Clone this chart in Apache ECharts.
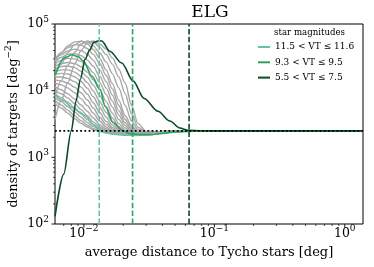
<!DOCTYPE html>
<html><head><meta charset="utf-8">
<script src="https://cdn.jsdelivr.net/npm/echarts@6/dist/echarts.min.js"></script>
<style>html,body{margin:0;padding:0;background:#fff}#c{width:374px;height:267px}</style>
</head><body><div id="c"></div>
<script>
// ---------- data ----------
const gridX = [0.006, 0.0067, 0.0075, 0.0085, 0.0095, 0.0106, 0.0118, 0.0132, 0.0148, 0.0165, 0.0185, 0.0207, 0.0232, 0.026, 0.03, 0.036, 0.045, 0.07, 0.15, 0.4, 1.38];
const greyF1 = [6500,5500,4600,3800,3250,2850,2600,2450,2350,2300,2270,2270,2290,2320,2360,2410,2450,2480,2490,2490,2490];
const greyF2 = [7200,6100,5100,4200,3550,3050,2700,2500,2380,2310,2270,2260,2280,2310,2350,2400,2450,2480,2490,2490,2490];
const greyF3 = [8000,6900,5800,4800,4000,3350,2900,2600,2420,2320,2270,2250,2260,2300,2350,2400,2450,2480,2490,2490,2490];
const greyF4 = [9000,7900,6700,5500,4500,3700,3100,2700,2470,2340,2270,2240,2250,2290,2340,2400,2450,2480,2490,2490,2490];
const greyF5 = [10200,9000,7800,6400,5200,4200,3400,2850,2550,2380,2280,2230,2240,2280,2340,2400,2450,2480,2490,2490,2490];
const greyF6 = [11500,10300,9000,7500,6100,4900,3900,3100,2680,2440,2300,2230,2230,2270,2330,2400,2450,2480,2490,2490,2490];
const greyM1 = [13000,12200,11000,9300,7600,6000,4600,3500,2850,2520,2330,2240,2230,2260,2330,2400,2450,2480,2490,2490,2490];
const greyM2 = [14500,14000,13000,11300,9300,7300,5500,4000,3100,2650,2380,2250,2230,2260,2330,2400,2450,2480,2490,2490,2490];
const greyM3 = [16000,16000,15300,13600,11300,8900,6600,4700,3450,2800,2450,2280,2230,2250,2320,2400,2450,2480,2490,2490,2490];
const greyM4 = [17500,18200,17800,16200,13700,10900,8100,5700,4000,3050,2550,2320,2240,2250,2320,2400,2450,2480,2490,2490,2490];
const greyM5 = [19000,20500,20500,19000,16400,13200,9900,6900,4700,3400,2700,2380,2250,2250,2320,2400,2450,2480,2490,2490,2490];
const greyM6 = [21000,23000,23500,22200,19500,16000,12100,8500,5700,3900,2900,2450,2270,2250,2320,2400,2450,2480,2490,2490,2490];
const greyM7 = [23000,25500,26500,25500,22800,19000,14600,10300,6900,4600,3200,2550,2300,2260,2320,2400,2450,2480,2490,2490,2490];
const greyB1 = [25000,28500,30500,30000,27500,23500,18500,13200,8800,5700,3700,2750,2380,2280,2320,2400,2450,2480,2490,2490,2490];
const greyB2 = [27000,31500,35000,36000,33500,29000,23000,16500,11000,7000,4300,3000,2480,2300,2320,2400,2450,2480,2490,2490,2490];
const greyB3 = [29000,34500,39500,42000,40000,35500,28500,20500,13700,8600,5000,3300,2600,2350,2330,2400,2450,2480,2490,2490,2490];
const greyB4 = [29500,37000,44000,49000,48000,43000,35000,25500,17000,10600,6000,3700,2750,2400,2340,2400,2450,2480,2490,2490,2490];
const greyB5 = [27000,37000,47000,54000,55000,50000,41500,30500,20500,12800,7200,4200,2950,2450,2350,2400,2450,2480,2490,2490,2490];
const greyT1 = [16000,25000,37000,49000,55000,54000,47000,37000,27000,18000,11000,6000,3500,2600,2380,2400,2450,2480,2490,2490,2490];
const greyT2 = [8000,14000,24000,38000,50000,55500,53000,45000,35000,25000,16000,9000,4500,2800,2400,2410,2450,2480,2490,2490,2490];
const greyT3 = [3700,7000,13000,25000,40000,52000,55500,50000,42000,31000,21000,13000,6000,3200,2450,2420,2450,2480,2490,2490,2490];

const tealX = [0.006, 0.007, 0.0081, 0.0092, 0.0102, 0.0119, 0.013, 0.0145, 0.017, 0.02, 0.025, 0.03, 0.04, 0.05, 0.07, 0.12, 0.25, 0.6, 1.38];
const tealY = [8800, 7000, 5600, 4800, 4200, 3100, 2550, 2350, 2220, 2150, 2130, 2150, 2300, 2420, 2480, 2490, 2490, 2490, 2490];
const greenX = [0.006, 0.0071, 0.0081, 0.009, 0.0099, 0.0115, 0.0133, 0.0145, 0.0168, 0.0199, 0.0228, 0.028, 0.032, 0.04, 0.05, 0.07, 0.12, 0.25, 0.6, 1.38];
const greenY = [17000, 31000, 34500, 32500, 28000, 16600, 10500, 5900, 3300, 2500, 2250, 2200, 2200, 2280, 2400, 2470, 2490, 2490, 2490, 2490];
const darkX = [0.006, 0.007, 0.008, 0.0087, 0.0094, 0.0102, 0.0111, 0.0119, 0.0128, 0.0137, 0.0158, 0.0195, 0.0239, 0.0288, 0.037, 0.0456, 0.0544, 0.063, 0.08, 0.12, 0.25, 0.6, 1.38];
const darkY = [130, 560, 2500, 7000, 15000, 29500, 41000, 53000, 55600, 55600, 39000, 26000, 13900, 7700, 4900, 3500, 2750, 2550, 2500, 2490, 2490, 2490, 2490];

const legendNames = ['11.5 < VT ≤ 11.6', '9.3 < VT ≤ 9.5', '5.5 < VT ≤ 7.5'];
const cutRadii = [0.0131, 0.0236, 0.064];
const baselineDensity = 2500;

const xMajor = [0.01, 0.1, 1];
const xMinor = [0.007, 0.008, 0.009, 0.02, 0.03, 0.04, 0.05, 0.06, 0.07, 0.08, 0.09, 0.2, 0.3, 0.4, 0.5, 0.6, 0.7, 0.8, 0.9];
const yMajor = [100, 1000, 10000, 100000];
const yMinor = [200, 300, 400, 500, 600, 700, 800, 900, 2000, 3000, 4000, 5000, 6000, 7000, 8000, 9000, 20000, 30000, 40000, 50000, 60000, 70000, 80000, 90000];

const X_MIN = 0.006, X_MAX = 1.38, Y_MIN = 100, Y_MAX = 100000;

// ---------- styles ----------
const FONT = 'DejaVu Serif';
const GREY = '#a8a8a8';
const COLORS = ['#66c2a4', '#2ca25f', '#0b4a25'];

const greys = [greyF1, greyF2, greyF3, greyF4, greyF5, greyF6, greyM1, greyM2, greyM3, greyM4, greyM5, greyM6, greyM7,
  greyB1, greyB2, greyB3, greyB4, greyB5, greyT1, greyT2, greyT3];

function pairs(xs, ys) { return xs.map((x, i) => [x, ys[i]]); }

function powLabel(v) {
  const l = Math.log10(v);
  const e = Math.round(l);
  if (Math.abs(l - e) > 1e-6) return '';
  return '{b|10}{s|' + (e < 0 ? '\u2212' + (-e) : String(e)) + '}';
}
const tickRich = {
  b: { fontFamily: FONT, fontSize: 12.5, lineHeight: 13, color: '#000' },
  s: { fontFamily: FONT, fontSize: 9, lineHeight: 9, padding: [0, 0, 9, 0], color: '#000' }
};

const series = [];
greys.forEach((g, i) => series.push({
  type: 'line', name: 'grey' + i, data: pairs(gridX, g), showSymbol: false, silent: true,
  smooth: 0.3, smoothMonotone: 'x',
  lineStyle: { color: GREY, width: 1.4 }, z: 2
}));
[[tealX, tealY], [greenX, greenY], [darkX, darkY]].forEach((d, i) => series.push({
  type: 'line', name: legendNames[i], data: pairs(d[0], d[1]), showSymbol: false, silent: true,
  smooth: 0.3, smoothMonotone: 'x',
  color: COLORS[i], lineStyle: { color: COLORS[i], width: 1.6 }, z: 3
}));
cutRadii.forEach((r, i) => series.push({
  type: 'line', name: 'cut' + i, data: [[r, Y_MIN], [r, Y_MAX]], showSymbol: false, silent: true,
  lineStyle: { color: COLORS[i], width: 1.6, type: [5.5, 2.4] }, z: 4
}));
series.push({
  type: 'line', name: 'baseline', data: [[X_MIN, baselineDensity], [X_MAX, baselineDensity]], showSymbol: false, silent: true,
  lineStyle: { color: '#000', width: 1.8, type: [1.8, 2.4] }, z: 5
});

const tickData = [];
xMajor.forEach(v => tickData.push([v, Y_MIN, 3.5, 0]));
xMinor.forEach(v => tickData.push([v, Y_MIN, 2, 0]));
yMajor.forEach(v => tickData.push([X_MIN, v, 3.5, 1]));
yMinor.forEach(v => tickData.push([X_MIN, v, 2, 1]));
series.push({
  type: 'custom', name: 'ticks', data: tickData, silent: true, clip: false, z: 6,
  encode: { x: 0, y: 1 },
  renderItem: function (params, api) {
    const p = api.coord([api.value(0), api.value(1)]);
    const len = api.value(2);
    const dir = api.value(3);
    const shape = dir === 0
      ? { x1: p[0], y1: p[1], x2: p[0], y2: p[1] + len }
      : { x1: p[0] - len, y1: p[1], x2: p[0], y2: p[1] };
    return { type: 'line', shape: shape, style: { stroke: '#000', lineWidth: len > 3 ? 0.9 : 0.7 } };
  }
});

const chart = echarts.init(document.getElementById('c'), null, { renderer: 'canvas' });
chart.setOption({
  animation: false,
  backgroundColor: '#fff',
  title: {
    text: 'ELG', left: 210, top: 4, textAlign: 'center', padding: 0,
    textStyle: { fontFamily: FONT, fontSize: 17, fontWeight: 'normal', color: '#000' }
  },
  grid: { left: 55, right: 11, top: 24, bottom: 43, show: true, borderColor: '#000', borderWidth: 1, backgroundColor: 'transparent', outerBoundsMode: 'none' },
  xAxis: {
    type: 'log', logBase: 10, min: X_MIN, max: X_MAX,
    axisLine: { show: false }, axisTick: { show: false }, splitLine: { show: false }, minorTick: { show: false },
    axisLabel: { formatter: powLabel, margin: 3, rich: tickRich, showMinLabel: true, showMaxLabel: true, hideOverlap: false },
    name: 'average distance to Tycho stars [deg]', nameLocation: 'middle', nameGap: 22, nameMoveOverlap: false,
    nameTextStyle: { fontFamily: FONT, fontSize: 13, color: '#000', verticalAlign: 'top' }
  },
  yAxis: {
    type: 'log', logBase: 10, min: Y_MIN, max: Y_MAX,
    axisLine: { show: false }, axisTick: { show: false }, splitLine: { show: false }, minorTick: { show: false },
    axisLabel: { formatter: powLabel, margin: 6, rich: tickRich, hideOverlap: false },
    name: '{n|density of targets [deg}{s|\u22122}{n|]}', nameLocation: 'middle', nameGap: 35, nameRotate: 90, nameMoveOverlap: false,
    nameTextStyle: {
      color: '#000',
      rich: {
        n: { fontFamily: FONT, fontSize: 13, lineHeight: 13, color: '#000' },
        s: { fontFamily: FONT, fontSize: 9, lineHeight: 9, padding: [0, 0, 9, 0], color: '#000' }
      }
    }
  },
  legend: {
    data: legendNames, orient: 'vertical', left: 258, top: 42, padding: 0,
    itemWidth: 12, itemHeight: 2, itemGap: 5.3, icon: 'rect', selectedMode: false,
    textStyle: { fontFamily: FONT, fontSize: 9, lineHeight: 10, color: '#000' }
  },
  graphic: [{
    type: 'text', silent: true,
    style: { x: 309.5, y: 33, text: 'star magnitudes', font: '8.6px "DejaVu Serif"', fill: '#000',
      align: 'center', verticalAlign: 'middle', textAlign: 'center', textVerticalAlign: 'middle' }
  }],
  series: series
});
</script>
</body></html>
